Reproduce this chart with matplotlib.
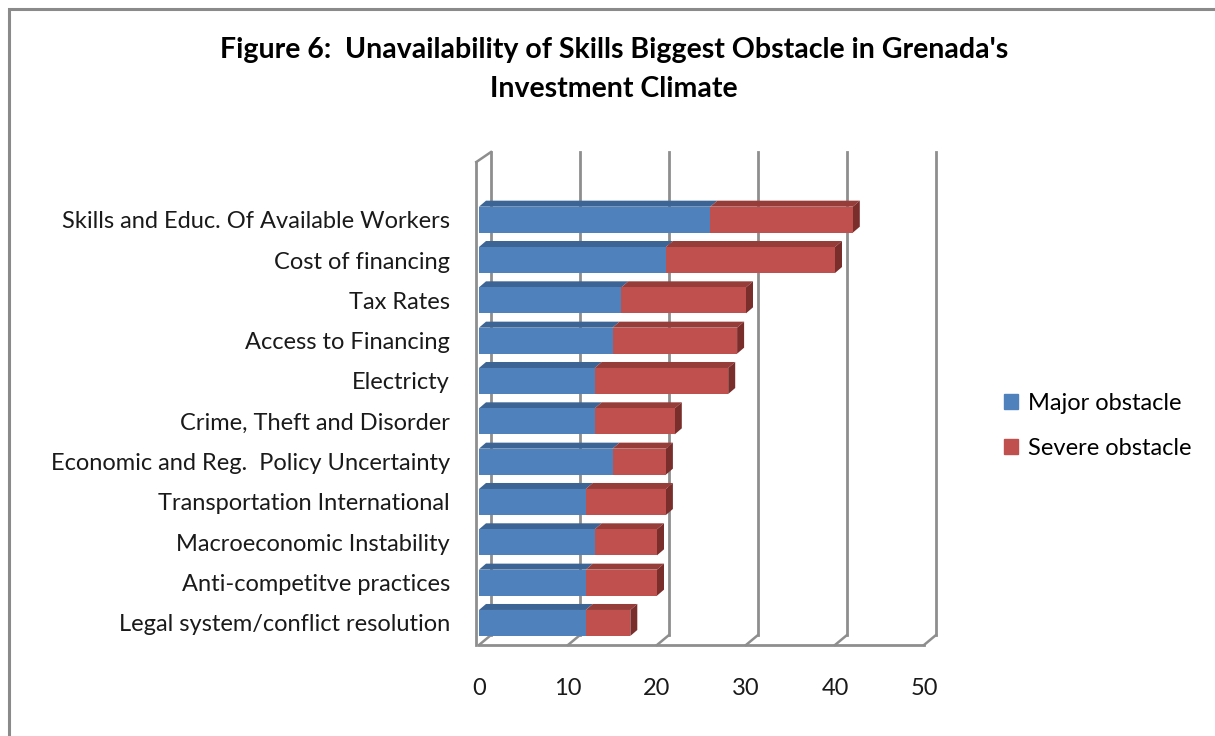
import numpy as np
import matplotlib.pyplot as plt
from matplotlib.patches import Patch, Polygon, Rectangle
from matplotlib.transforms import ScaledTranslation

# data (top to bottom)
categories = ['Skills and Educ. Of Available Workers', 'Cost of financing', 'Tax Rates',
              'Access to Financing', 'Electricty', 'Crime, Theft and Disorder',
              'Economic and Reg.  Policy Uncertainty', 'Transportation International',
              'Macroeconomic Instability', 'Anti-competitve practices',
              'Legal system/conflict resolution']
major = [26, 21, 16, 15, 13, 13, 15, 12, 13, 12, 12]
severe = [16, 19, 14, 14, 15, 9, 6, 9, 7, 8, 5]
xticks = [0, 10, 20, 30, 40, 50]

blue, blue_top = '#4F81BD', '#3C6494'
red, red_top, red_side = '#C0504D', '#963D3A', '#7A2E2C'
grid_c = '#8E8E8E'

plt.rcParams['font.family'] = ['Lato', 'DejaVu Sans']

W, H, DPI = 1215, 736, 100
fig = plt.figure(figsize=(W / DPI, H / DPI), dpi=DPI)

# outer frame
fig.add_artist(Rectangle((9 / W, -0.1), 1.2, 1 - 9 / H + 0.1, transform=fig.transFigure,
                         fill=False, ec='#8A8A8A', lw=2.2))

# front plane of the plot area in pixels
x0, x1, ytop, ybot = 479, 924, 162, 645
ax = fig.add_axes([x0 / W, 1 - ybot / H, (x1 - x0) / W, (ybot - ytop) / H])
ylo, yhi = -0.546, 11.43
ax.set_xlim(0, 50)
ax.set_ylim(ylo, yhi)
for s in ax.spines.values():
    s.set_visible(False)

px_x = (x1 - x0) / 50.0
px_y = (ybot - ytop) / (yhi - ylo)

# depth of back wall and of the bars, in data units
bdx, bdy = 12 / px_x, 10 / px_y
dx, dy = 7 / px_x, 6 / px_y

back = ax.transData + ScaledTranslation(12 / DPI, 10 / DPI, fig.dpi_scale_trans)

# back wall gridlines
for v in xticks:
    ax.plot([v, v], [ylo, yhi], color=grid_c, lw=2, transform=back, clip_on=False, zorder=1)
    ax.plot([v, v + bdx], [ylo, ylo + bdy], color=grid_c, lw=1.8, clip_on=False, zorder=1)
# floor front edge and left wall
ax.plot([0, 50], [ylo, ylo], color=grid_c, lw=2, clip_on=False, zorder=1)
ax.plot([-0.3, -0.3], [ylo, yhi], color=grid_c, lw=2, clip_on=False, zorder=1)
ax.plot([-0.3, bdx], [yhi, yhi + bdy], color=grid_c, lw=1.8, clip_on=False, zorder=1)

y = np.arange(len(categories))[::-1]
h = 0.645
tot = [m + s for m, s in zip(major, severe)]
for yi, m, t in zip(y, major, tot):
    top = yi + h / 2
    bot = yi - h / 2
    ax.add_patch(Polygon([(0, top), (m, top), (m + dx, top + dy), (dx, top + dy)],
                         closed=True, fc=blue_top, ec='none', zorder=3))
    ax.add_patch(Polygon([(m, top), (t, top), (t + dx, top + dy), (m + dx, top + dy)],
                         closed=True, fc=red_top, ec='none', zorder=3))
    ax.add_patch(Polygon([(t, bot), (t, top), (t + dx, top + dy), (t + dx, bot + dy)],
                         closed=True, fc=red_side, ec='none', zorder=3))

ax.barh(y, major, height=h, color=blue, zorder=4)
ax.barh(y, severe, left=major, height=h, color=red, zorder=4)

ax.set_yticks(y)
ax.set_yticklabels(categories, fontsize=17, color='#1a1a1a')
ax.set_xticks(xticks)
ax.set_xticklabels([str(v) for v in xticks], fontsize=17, color='#1a1a1a')
ax.tick_params(axis='y', length=0, pad=21)
ax.tick_params(axis='x', length=0, pad=24)

fig.text(614 / W, 1 - 50 / H, "Figure 6:  Unavailability of Skills Biggest Obstacle in Grenada's",
         ha='center', va='center', fontsize=20.5, fontweight='bold')
fig.text(614 / W, 1 - 89 / H, "Investment Climate",
         ha='center', va='center', fontsize=20.5, fontweight='bold')

handles = [Patch(color=blue, label='Major obstacle'), Patch(color=red, label='Severe obstacle')]
fig.legend(handles=handles, loc='center left', bbox_to_anchor=(983 / W, 1 - 426 / H),
           frameon=False, fontsize=17, handlelength=0.6, handleheight=0.6,
           handletextpad=0.4, labelspacing=1.0)

fig.savefig('out.png', dpi=DPI)
